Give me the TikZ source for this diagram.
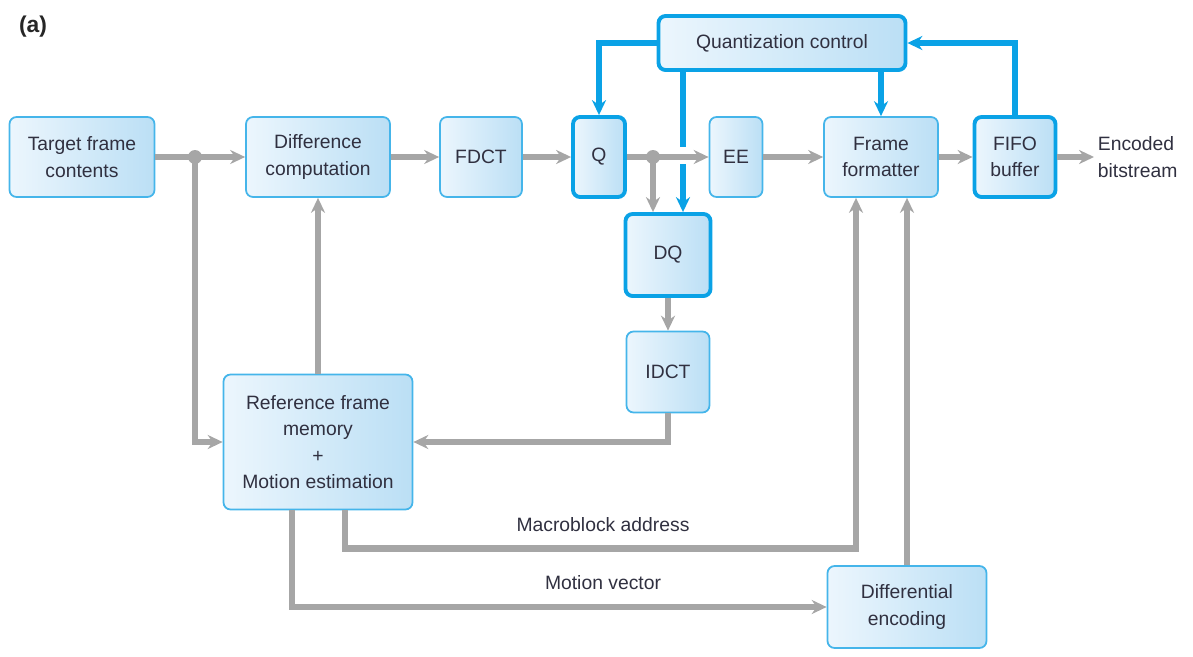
\documentclass[tikz,border=0pt]{standalone}
\usepackage{fontspec}
\setmainfont{Liberation Sans}
\usetikzlibrary{arrows.meta}
\definecolor{boxL}{HTML}{ECF6FD}
\definecolor{boxR}{HTML}{BBDFF5}
\definecolor{bordC}{HTML}{45B5EA}
\definecolor{lineB}{HTML}{0AA2E6}
\definecolor{lineG}{HTML}{A6A6A6}
\definecolor{txtC}{HTML}{303040}

\begin{document}
\begin{tikzpicture}[x=0.02cm,y=-0.02cm,font=\fontsize{11}{15}\selectfont,>={Stealth[length=8.5pt,width=8pt]},
  blk/.style={draw=bordC,line width=1pt,rounded corners=4pt,left color=boxL,right color=boxR,align=center,text=txtC,inner sep=2pt},
  blkb/.style={blk,draw=lineB,line width=2.2pt},
  gl/.style={draw=lineG,line width=3.6pt},
  bl/.style={draw=lineB,line width=3pt}]
\useasboundingbox (0,0) rectangle (1193,656);
\node[text=black!85,font=\bfseries\fontsize{13}{15}\selectfont] (lbl) at (33,27) {(a)};
% Bloecke
\node[blk,minimum width=2.9cm,minimum height=1.6cm] (tfc) at (82,157) {Target frame\\contents};
\node[blk,minimum width=2.88cm,minimum height=1.6cm] (diff) at (318,157) {Difference\\computation};
\node[blk,minimum width=1.64cm,minimum height=1.6cm] (fdct) at (481,157) {FDCT};
\node[blkb,minimum width=1.04cm,minimum height=1.6cm] (q) at (599,157) {Q};
\node[blk,minimum width=1.06cm,minimum height=1.6cm] (ee) at (736,157) {EE};
\node[blk,minimum width=2.28cm,minimum height=1.6cm] (ff) at (881,157) {Frame\\formatter};
\node[blkb,minimum width=1.62cm,minimum height=1.6cm] (fifo) at (1015,157) {FIFO\\buffer};
\node[text=txtC,align=left,anchor=west,inner sep=2pt] (out) at (1094,157) {Encoded\\bitstream};
\node[blkb,minimum width=4.94cm,minimum height=1.08cm] (qc) at (782,43) {Quantization control};
\node[blkb,minimum width=1.7cm,minimum height=1.64cm] (dq) at (668,255) {DQ};
\node[blk,minimum width=1.66cm,minimum height=1.62cm] (idct) at (668,372) {IDCT};
\node[blk,minimum width=3.78cm,minimum height=2.7cm] (ref) at (318,442) {Reference frame\\memory\\+\\Motion estimation};
\node[blk,minimum width=3.18cm,minimum height=1.64cm] (de) at (907,607) {Differential\\encoding};
% Abzweigpunkte
\coordinate (s1) at (195,157); \coordinate (s2) at (653,157);
% graue Datenpfade
\draw[gl,->] (tfc) -- (diff);
\draw[gl,->] (s1) |- (ref.west);
\draw[gl,->] (diff) -- (fdct);
\draw[gl,->] (fdct) -- (q);
\draw[gl,->] (ref.north) -- (diff.south);
\draw[gl,->] (idct.south) |- (ref.east);
\draw[gl,->] (dq) -- (idct);
\draw[gl,->] (ee) -- (ff);
\draw[gl,->] (ff) -- (fifo);
\draw[gl,->] (fifo) -- (out);
\draw[gl,->] ([xshift=0.54cm]ref.south) -- ++(0,38) -| ([xshift=-0.5cm]ff.south);
\draw[gl,->] ([xshift=-0.52cm]ref.south) |- (de.west);
\draw[gl,->] (de.north) -- (de.north |- ff.south);
\node[text=txtC] (mba) at (603,525) {Macroblock address};
\node[text=txtC] (mv) at (603,583) {Motion vector};
% Steuerung
\draw[bl,->] (qc.west) -| (q.north);
\draw[bl,->] (qc.south -| ff.north) -- (ff.north);
\draw[bl,->] (fifo.north) |- (qc.east);
\draw[bl] ([xshift=-1.98cm]qc.south) -- ++(0,75);
\draw[bl,->] ([xshift=0.3cm]dq.north) ++(0,-48) -- ([xshift=0.3cm]dq.north);
\draw[gl,->] (q) -- (ee);
\draw[gl,->] (s2) -- (s2 |- dq.north);
\fill[lineG] (s1) circle (0.14cm); \fill[lineG] (s2) circle (0.14cm);
\end{tikzpicture}
\end{document}
